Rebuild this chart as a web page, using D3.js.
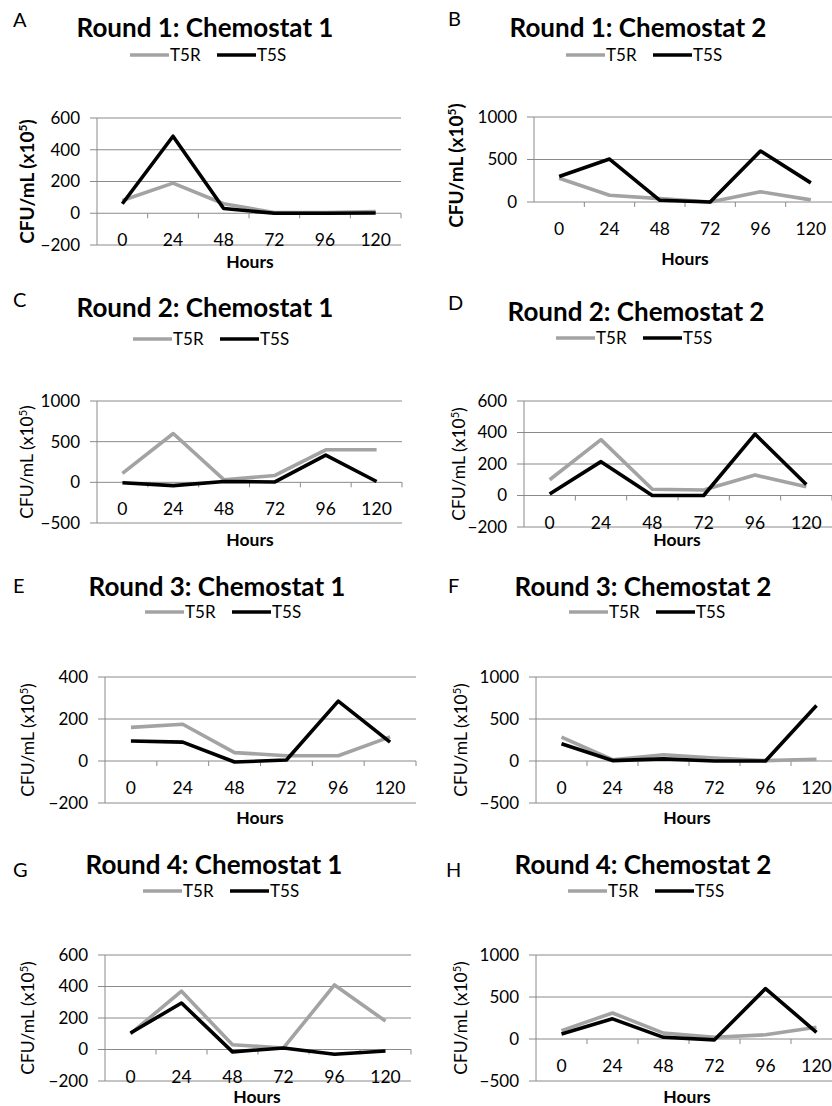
<!DOCTYPE html>
<html><head><meta charset="utf-8">
<script src="https://cdn.jsdelivr.net/npm/d3@7/dist/d3.min.js"></script>
<style>
body{margin:0;background:#fff}
svg{display:block}
text{font-family:Lato,'Open Sans',sans-serif;fill:#000}
</style>
</head><body>
<svg id="chart" width="832" height="1106"></svg>
<script>
// ---------- data ----------
const hours = ["0","24","48","72","96","120"];
const seriesNames = ["T5R","T5S"];
const panelLetters = ["A","B","C","D","E","F","G","H"];
const panelTitles = ["Round 1: Chemostat 1","Round 1: Chemostat 2","Round 2: Chemostat 1","Round 2: Chemostat 2",
                     "Round 3: Chemostat 1","Round 3: Chemostat 2","Round 4: Chemostat 1","Round 4: Chemostat 2"];
const yTicksA = [-200,0,200,400,600];
const yTicksB = [0,500,1000];
const yTicksC = [-500,0,500,1000];
const yTicksD = [-200,0,200,400,600];
const yTicksE = [-200,0,200,400];
const yTicksF = [-500,0,500,1000];
const yTicksG = [-200,0,200,400,600];
const yTicksH = [-500,0,500,1000];
const t5rA = [80,190,60,5,5,10];
const t5sA = [60,485,30,0,0,2];
const t5rB = [280,80,40,0,120,25];
const t5sB = [300,505,20,0,600,225];
const t5rC = [110,600,30,85,400,400];
const t5sC = [-5,-40,10,5,335,10];
const t5rD = [100,355,40,35,130,55];
const t5sD = [10,215,0,0,390,70];
const t5rE = [160,175,40,25,25,115];
const t5sE = [95,90,-5,5,285,90];
const t5rF = [285,15,75,35,5,20];
const t5sF = [205,5,25,0,0,660];
const t5rG = [100,370,30,10,410,180];
const t5sG = [105,295,-15,10,-30,-10];
const t5rH = [100,310,70,20,50,140];
const t5sH = [60,240,20,-10,600,80];

const yTicks = [yTicksA,yTicksB,yTicksC,yTicksD,yTicksE,yTicksF,yTicksG,yTicksH];
const t5r = [t5rA,t5rB,t5rC,t5rD,t5rE,t5rF,t5rG,t5rH];
const t5s = [t5sA,t5sB,t5sC,t5sD,t5sE,t5sF,t5sG,t5sH];

// ---------- layout (positions / styles) ----------
const layout = [
  {l:97, r:401, t:118, b:245, lx:13, ly:27, tx:205, ty:37, gx:130, gy:55, yl:27, ylc:0, hx:250, hy:268, bold:true},
  {l:534,r:836, t:117, b:202, lx:448,ly:26, tx:638, ty:37, gx:566, gy:55, yl:456,ylc:6, hx:685, hy:265, bold:true},
  {l:97, r:402, t:401, b:523, lx:13, ly:307,tx:205, ty:317,gx:133, gy:339,yl:27, ylc:0, hx:250, hy:546, bold:false},
  {l:524,r:832, t:401, b:527, lx:448,ly:310,tx:636, ty:321,gx:556, gy:338,yl:459,ylc:0, hx:677, hy:546, bold:false},
  {l:105,r:416, t:677, b:803, lx:13, ly:593,tx:217, ty:596,gx:145, gy:612,yl:28, ylc:0, hx:260, hy:824, bold:false},
  {l:536,r:842, t:677, b:803, lx:448,ly:593,tx:643, ty:596,gx:569, gy:612,yl:461,ylc:0, hx:687, hy:824, bold:false},
  {l:105,r:411, t:955, b:1081,lx:13, ly:877,tx:214, ty:874,gx:143, gy:891,yl:28, ylc:0, hx:257, hy:1103,bold:false},
  {l:536,r:842, t:955, b:1081,lx:446,ly:877,tx:643, ty:874,gx:568, gy:891,yl:461,ylc:0, hx:687, hy:1103,bold:false}
];
const colors = {T5R:"#a3a3a3", T5S:"#000000"};
const gridColor = "#8a8a8a";

const svg = d3.select("#chart");

layout.forEach((L,i)=>{
  const g = svg.append("g");
  const x = d3.scaleBand().domain(hours).range([L.l, L.r]).paddingInner(0).paddingOuter(0);
  const ticks = yTicks[i];
  const y = d3.scaleLinear().domain(d3.extent(ticks)).range([L.b, L.t]);
  const bw = x.bandwidth();

  // panel letter
  g.append("text").attr("x",L.lx).attr("y",L.ly).attr("font-size",20).text(panelLetters[i]);
  // title
  g.append("text").attr("x",L.tx).attr("y",L.ty).attr("text-anchor","middle")
    .attr("font-size",26).attr("font-weight","bold").text(panelTitles[i]);
  // legend
  const lg = g.append("g").attr("transform",`translate(${L.gx},${L.gy})`);
  seriesNames.forEach((s,k)=>{
    const ox = k*87;
    lg.append("line").attr("x1",ox).attr("x2",ox+39).attr("y1",0).attr("y2",0)
      .attr("stroke",colors[s]).attr("stroke-width",3.5);
    lg.append("text").attr("x",ox+40).attr("y",6).attr("font-size",17).text(s);
  });

  // gridlines
  g.append("g").selectAll("line").data(ticks).join("line")
    .attr("x1",L.l-7).attr("x2",L.r).attr("y1",d=>y(d)).attr("y2",d=>y(d))
    .attr("stroke",gridColor).attr("stroke-width",1);
  // y axis line
  g.append("line").attr("x1",L.l).attr("x2",L.l).attr("y1",L.t).attr("y2",L.b)
    .attr("stroke",gridColor).attr("stroke-width",1);
  // y tick labels
  const ya = d3.axisLeft(y).tickValues(ticks).tickSize(0).tickPadding(17).tickFormat(d3.format("d"));
  const yag = g.append("g").attr("transform",`translate(${L.l},0)`).call(ya);
  yag.select(".domain").remove();
  yag.selectAll("text").attr("font-size",17).attr("font-family","Lato,'Open Sans',sans-serif").attr("fill","#000");

  // x tick marks at band boundaries on zero line
  const y0 = y(0);
  g.append("g").selectAll("line").data(hours).join("line")
    .attr("x1",d=>x(d)+bw).attr("x2",d=>x(d)+bw).attr("y1",y0).attr("y2",y0+5)
    .attr("stroke",gridColor).attr("stroke-width",1);
  // x tick labels
  g.append("g").selectAll("text").data(hours).join("text")
    .attr("x",d=>x(d)+bw/2).attr("y",y0+33).attr("text-anchor","middle")
    .attr("font-size",17.5).text(d=>d);

  // axis titles
  g.append("text").attr("x",L.hx).attr("y",L.hy).attr("text-anchor","middle")
    .attr("font-size",17.5).attr("font-weight","bold").text("Hours");
  const yc = (L.t+L.b)/2 + L.ylc;
  const yt = g.append("text").attr("transform",`translate(${L.yl},${yc}) rotate(-90)`)
    .attr("text-anchor","middle").attr("dy","0.35em")
    .attr("font-size", L.bold ? 19 : 17.5).attr("font-weight", L.bold ? "bold" : "normal");
  yt.append("tspan").text("CFU/mL (x10");
  yt.append("tspan").attr("baseline-shift","super").attr("font-size", L.bold ? 12 : 11).text("5");
  yt.append("tspan").text(")");

  // series lines
  const line = d3.line().x((d,k)=>x(hours[k])+bw/2).y(d=>y(d)).curve(d3.curveLinear);
  const data = {T5R:t5r[i], T5S:t5s[i]};
  seriesNames.forEach(s=>{
    g.append("path").datum(data[s]).attr("d",line).attr("fill","none")
      .attr("stroke",colors[s]).attr("stroke-width",3.6).attr("stroke-linejoin","round");
  });
});
</script>
</body></html>
